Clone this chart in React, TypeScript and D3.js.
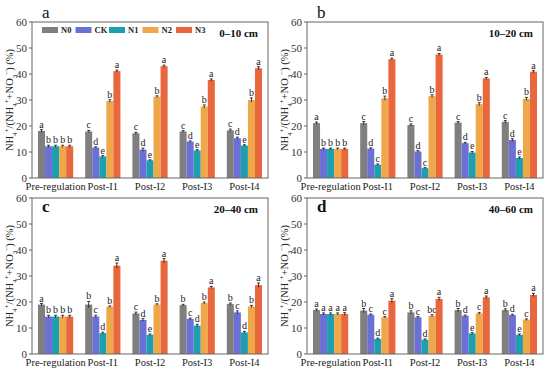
import React from 'react';
import * as d3 from 'd3';

// categories / treatments
const categories = ['Pre-regulation', 'Post-I1', 'Post-I2', 'Post-I3', 'Post-I4'];
const treatments = ['N0', 'CK', 'N1', 'N2', 'N3'];
const yTicks = [0, 10, 20, 30, 40, 50, 60];

// NH4+/(NH4+ + NO3-) (%), rows = category, cols = treatment (N0, CK, N1, N2, N3)
const depth0to10 = [
  [18.1, 12.2, 12.2, 12.2, 12.2],
  [17.9, 11.7, 8.3, 29.6, 41.1],
  [17.2, 10.9, 6.8, 31.3, 43.0],
  [17.9, 14.0, 10.6, 27.5, 37.7],
  [18.3, 15.3, 12.5, 30.0, 42.2],
];
const depth10to20 = [
  [21.1, 11.2, 11.2, 11.2, 11.2],
  [21.1, 11.3, 5.1, 30.7, 45.7],
  [20.4, 10.2, 3.8, 31.5, 47.5],
  [21.3, 13.4, 9.8, 28.4, 38.3],
  [21.6, 14.6, 7.7, 30.4, 40.9],
];
const depth20to40 = [
  [19.0, 14.4, 14.4, 14.4, 14.4],
  [19.0, 14.4, 8.0, 18.2, 34.0],
  [15.6, 13.1, 7.4, 19.0, 35.9],
  [18.8, 13.5, 10.9, 19.6, 25.6],
  [19.2, 16.0, 8.3, 18.3, 26.5],
];
const depth40to60 = [
  [16.9, 15.4, 15.4, 15.4, 15.4],
  [16.7, 15.1, 5.8, 14.1, 20.5],
  [16.0, 14.1, 5.5, 14.7, 21.2],
  [16.9, 14.7, 7.9, 15.6, 21.8],
  [16.9, 15.0, 7.4, 13.2, 22.7],
];

// standard errors
const err0to10 = [
  [0.5, 0.4, 0.4, 0.4, 0.4],
  [0.4, 0.3, 0.3, 0.5, 0.4],
  [0.4, 0.6, 0.2, 0.3, 0.4],
  [0.3, 0.3, 0.3, 0.6, 0.4],
  [0.5, 0.4, 0.3, 0.8, 0.6],
];
const err10to20 = [
  [0.4, 0.3, 0.3, 0.3, 0.3],
  [0.6, 0.3, 0.3, 0.8, 0.4],
  [0.4, 0.3, 0.2, 0.5, 0.4],
  [0.4, 0.3, 0.4, 0.6, 0.4],
  [0.5, 0.5, 0.4, 0.6, 0.4],
];
const err20to40 = [
  [0.4, 0.5, 0.5, 0.5, 0.5],
  [1.2, 0.5, 0.4, 0.3, 1.0],
  [0.5, 0.5, 0.3, 0.3, 0.8],
  [0.3, 0.3, 0.5, 0.4, 0.4],
  [0.4, 0.6, 0.4, 0.4, 0.8],
];
const err40to60 = [
  [0.4, 0.4, 0.4, 0.4, 0.5],
  [0.8, 0.3, 0.3, 0.3, 0.8],
  [0.6, 0.3, 0.3, 0.4, 0.6],
  [0.6, 0.3, 0.3, 0.4, 0.5],
  [0.5, 0.3, 0.3, 0.3, 0.6],
];

// significance letters
const sig0to10 = [
  ['a', 'b', 'b', 'b', 'b'],
  ['c', 'd', 'e', 'b', 'a'],
  ['c', 'd', 'e', 'b', 'a'],
  ['c', 'd', 'e', 'b', 'a'],
  ['c', 'd', 'e', 'b', 'a'],
];
const sig10to20 = [
  ['a', 'b', 'b', 'b', 'b'],
  ['c', 'd', 'c', 'b', 'a'],
  ['c', 'd', 'c', 'b', 'a'],
  ['c', 'd', 'e', 'b', 'a'],
  ['c', 'd', 'e', 'b', 'a'],
];
const sig20to40 = [
  ['a', 'b', 'b', 'b', 'b'],
  ['b', 'c', 'd', 'b', 'a'],
  ['c', 'd', 'e', 'b', 'a'],
  ['b', 'c', 'd', 'b', 'a'],
  ['b', 'c', 'd', 'b', 'a'],
];
const sig40to60 = [
  ['a', 'a', 'a', 'a', 'a'],
  ['b', 'c', 'd', 'c', 'a'],
  ['b', 'c', 'd', 'bc', 'a'],
  ['b', 'd', 'e', 'c', 'a'],
  ['b', 'd', 'e', 'c', 'a'],
];

const colors = ['#7f7f7f', '#6a70d6', '#1c9fae', '#eea84a', '#e8673c'];

const W = 236;
const H = 156;

const panels = [
  { tag: 'a', depth: '0–10 cm', x: 32, y: 22, values: depth0to10, errs: err0to10, sig: sig0to10, legend: true, inside: false },
  { tag: 'b', depth: '10–20 cm', x: 307, y: 22, values: depth10to20, errs: err10to20, sig: sig10to20, legend: false, inside: false },
  { tag: 'c', depth: '20–40 cm', x: 32, y: 198, values: depth20to40, errs: err20to40, sig: sig20to40, legend: false, inside: true },
  { tag: 'd', depth: '40–60 cm', x: 307, y: 198, values: depth40to60, errs: err40to60, sig: sig40to60, legend: false, inside: true },
];

function Panel({ p }: { p: typeof panels[number] }) {
  const x0 = d3.scaleBand<string>().domain(categories).range([0, W]).padding(0);
  const x1 = d3.scaleBand<string>().domain(treatments).range([0, x0.bandwidth()]).paddingInner(0).paddingOuter(0.85);
  const y = d3.scaleLinear().domain([0, 60]).range([H, 0]);

  return (
    <g transform={`translate(${p.x},${p.y})`}>
      {categories.map((c, ci) => (
        <g key={c} transform={`translate(${x0(c)},0)`}>
          {treatments.map((t, ti) => {
            const v = p.values[ci][ti];
            const e = p.errs[ci][ti];
            const bx = x1(t) as number;
            const bw = x1.bandwidth();
            const cx = bx + bw / 2;
            return (
              <g key={t}>
                <rect x={bx} y={y(v)} width={bw} height={H - y(v)} fill={colors[ti]} />
                <line x1={cx} x2={cx} y1={y(v - e)} y2={y(v + e)} stroke="#111" strokeWidth={0.8} />
                <line x1={cx - 1.5} x2={cx + 1.5} y1={y(v + e)} y2={y(v + e)} stroke="#111" strokeWidth={0.8} />
                <text x={cx} y={y(v + e) - 2} textAnchor="middle" fontSize={10} fill="#222">
                  {p.sig[ci][ti]}
                </text>
              </g>
            );
          })}
          <text x={x0.bandwidth() / 2} y={H + 12} textAnchor="middle" fontSize={10.5} fill="#222">
            {c}
          </text>
        </g>
      ))}

      {/* frame */}
      <rect x={0} y={0} width={W} height={H} fill="none" stroke="#666" strokeWidth={1} />

      {/* y axis */}
      {yTicks.map(t => (
        <g key={t} transform={`translate(0,${y(t)})`}>
          <line x1={-3} x2={0} stroke="#666" />
          <text x={-5} dy="0.35em" textAnchor="end" fontSize={11} fill="#333">{t}</text>
        </g>
      ))}

      <text
        transform={`translate(-19,${H / 2}) rotate(-90)`}
        textAnchor="middle"
        fontSize={10.5}
        fill="#222"
      >
        NH<tspan fontSize={7} baselineShift="sub">4</tspan>
        <tspan fontSize={7} baselineShift="super">+</tspan>
        /(NH<tspan fontSize={7} baselineShift="sub">4</tspan>
        <tspan fontSize={7} baselineShift="super">+</tspan>
        +NO<tspan fontSize={7} baselineShift="sub">3</tspan>
        <tspan fontSize={7} baselineShift="super">−</tspan>) (%)
      </text>

      {/* panel tag */}
      <text
        x={10}
        y={p.inside ? 14 : -4}
        fontSize={17}
        fontWeight={p.inside ? 'bold' : 'normal'}
        fill="#111"
      >
        {p.tag}
      </text>

      {/* depth label */}
      <text x={W - 10} y={15} textAnchor="end" fontSize={11} fontWeight="bold" fill="#111">
        {p.depth}
      </text>

      {p.legend &&
        treatments.map((t, i) => (
          <g key={t} transform={`translate(${10 + i * 33.5},5)`}>
            <rect x={0} y={0} width={16} height={6} fill={colors[i]} />
            <text x={19} y={6} fontSize={8.5} fontWeight="bold" fill="#222">{t}</text>
          </g>
        ))}
    </g>
  );
}

export default function App() {
  return (
    <svg
      width={550}
      height={372}
      style={{
        position: 'absolute',
        left: 0,
        top: 0,
        background: '#fff',
        fontFamily: "'Liberation Serif', 'Times New Roman', Times, serif",
      }}
    >
      {panels.map(p => (
        <Panel key={p.tag} p={p} />
      ))}
    </svg>
  );
}
